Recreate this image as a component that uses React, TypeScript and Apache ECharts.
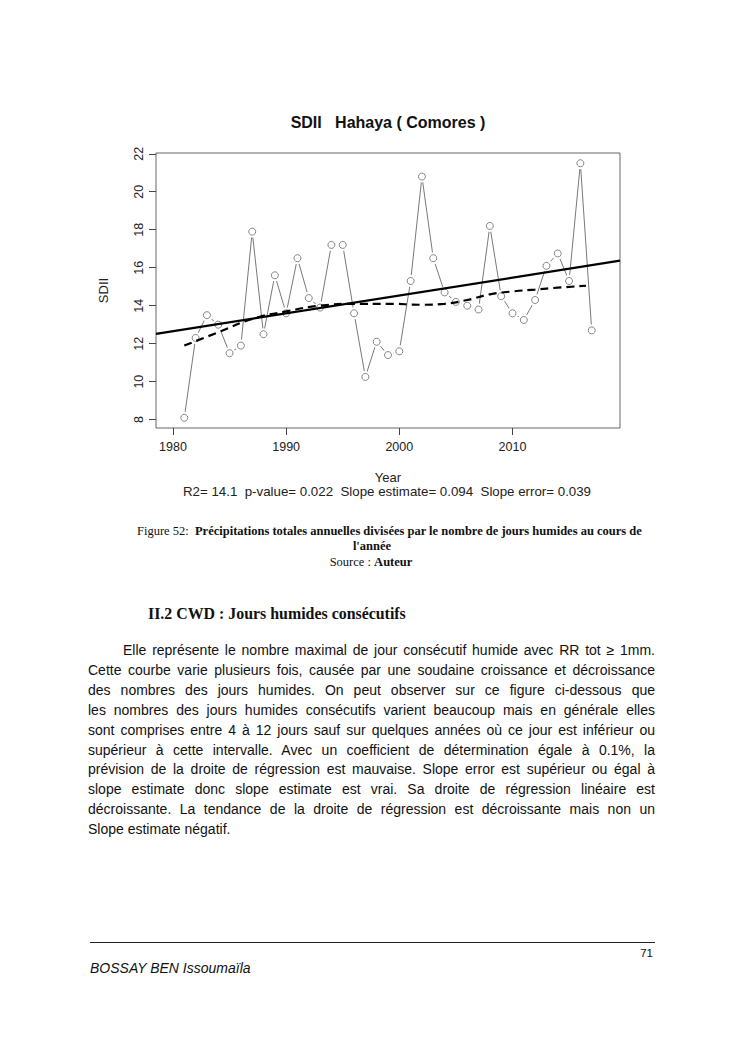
import React, { useEffect, useRef } from "react";
import * as echarts from "echarts";

const years = [1981, 1982, 1983, 1984, 1985, 1986, 1987, 1988, 1989, 1990, 1991, 1992, 1993, 1994, 1995, 1996, 1997, 1998, 1999, 2000, 2001, 2002, 2003, 2004, 2005, 2006, 2007, 2008, 2009, 2010, 2011, 2012, 2013, 2014, 2015, 2016, 2017];
const sdii = [8.1, 12.3, 13.5, 13.0, 11.5, 11.9, 17.9, 12.5, 15.6, 13.6, 16.5, 14.4, 13.9, 17.2, 17.2, 13.6, 10.25, 12.1, 11.4, 11.6, 15.3, 20.8, 16.5, 14.7, 14.2, 14.0, 13.8, 18.2, 14.5, 13.6, 13.25, 14.3, 16.1, 16.75, 15.3, 21.5, 12.7];

const trendYears = [1978.5, 2019.5];
const trendValues = [12.52, 16.37];

const smoothYears = [1981, 1984, 1987, 1990, 1993, 1996, 1999, 2002, 2004, 2006, 2008, 2010, 2012, 2014, 2016.5];
const smoothValues = [11.9, 12.6, 13.3, 13.7, 14.0, 14.1, 14.1, 14.05, 14.1, 14.3, 14.6, 14.75, 14.85, 14.95, 15.05];

const xTicks = [1980, 1990, 2000, 2010];
const yTicks = [8, 10, 12, 14, 16, 18, 20, 22];

const chartTitle = "SDII   Hahaya ( Comores )";
const xName = "Year";
const yName = "SDII";
const statsText = "R2= 14.1  p-value= 0.022  Slope estimate= 0.094  Slope error= 0.039";

const paragraphLines = [
  "Elle représente le nombre maximal de jour consécutif humide avec RR tot ≥ 1mm.",
  "Cette courbe varie plusieurs fois, causée par une soudaine croissance et décroissance",
  "des nombres des jours humides.  On  peut  observer  sur  ce  figure  ci-dessous  que",
  "les  nombres  des  jours  humides consécutifs varient beaucoup mais en générale elles",
  "sont comprises entre 4 à 12 jours sauf sur quelques années où ce jour est inférieur ou",
  "supérieur à cette intervalle. Avec un coefficient de détermination égale à 0.1%, la",
  "prévision de la droite de régression est mauvaise. Slope error est supérieur ou égal à",
  "slope estimate donc slope estimate est vrai. Sa droite de régression linéaire est",
  "décroissante. La  tendance de la droite de régression est décroissante mais non un",
  "Slope estimate négatif.",
];

const FONT = "'Liberation Sans', Arial, sans-serif";
const SERIF = "'Liberation Serif', 'Times New Roman', serif";

function Chart() {
  const ref = useRef<HTMLDivElement>(null);
  useEffect(() => {
    if (!ref.current) return;
    const chart = echarts.init(ref.current, null, { renderer: "svg" });
    const obs = years.map((y, i) => [y, sdii[i]]);
    chart.setOption({
      animation: false,
      backgroundColor: "#fff",
      grid: {
        left: 156,
        top: 153,
        width: 464,
        height: 275,
        show: true,
        borderColor: "#666",
        borderWidth: 1,
        backgroundColor: "transparent",
      },
      xAxis: {
        type: "value",
        min: 1978.5,
        max: 2019.5,
        splitLine: { show: false },
        axisLine: { show: false },
        axisTick: { show: true, customValues: xTicks, length: 7, lineStyle: { color: "#444", width: 1 } },
        axisLabel: {
          customValues: xTicks,
          formatter: (v: number) => String(v),
          fontFamily: FONT,
          fontSize: 12.5,
          color: "#222",
          margin: 12,
        },
      },
      yAxis: {
        type: "value",
        min: 7.56,
        max: 22.04,
        name: yName,
        nameLocation: "middle",
        nameGap: 46,
        nameRotate: 90,
        nameTextStyle: { fontFamily: FONT, fontSize: 13, color: "#222" },
        splitLine: { show: false },
        axisLine: { show: false },
        axisTick: { show: true, customValues: yTicks, length: 7, lineStyle: { color: "#444", width: 1 } },
        axisLabel: {
          customValues: yTicks,
          formatter: (v: number) => String(v),
          rotate: 90,
          fontFamily: FONT,
          fontSize: 12.5,
          color: "#222",
          margin: 11,
        },
      },
      graphic: [
        {
          type: "text",
          x: 388,
          y: 122,
          style: {
            text: chartTitle,
            fontFamily: FONT,
            fontSize: 16,
            fontWeight: "bold",
            fill: "#111",
            textAlign: "center",
            textVerticalAlign: "middle",
          },
        },
        {
          type: "text",
          x: 388,
          y: 477,
          style: {
            text: xName,
            fontFamily: FONT,
            fontSize: 13,
            fill: "#222",
            textAlign: "center",
            textVerticalAlign: "middle",
          },
        },
        {
          type: "text",
          x: 387,
          y: 491,
          style: {
            text: statsText,
            fontFamily: FONT,
            fontSize: 13.3,
            fill: "#222",
            textAlign: "center",
            textVerticalAlign: "middle",
          },
        },
      ],
      series: [
        {
          type: "line",
          data: obs,
          symbol: "circle",
          symbolSize: 12,
          itemStyle: { color: "#fff", borderWidth: 0 },
          lineStyle: { color: "#555", width: 0.8 },
          z: 2,
        },
        {
          type: "scatter",
          data: obs,
          symbol: "circle",
          symbolSize: 7,
          itemStyle: { color: "#fff", borderColor: "#444", borderWidth: 0.8 },
          z: 3,
        },
        {
          type: "line",
          data: trendYears.map((y, i) => [y, trendValues[i]]),
          showSymbol: false,
          symbol: "none",
          lineStyle: { color: "#000", width: 2.2 },
          z: 4,
        },
        {
          type: "line",
          data: smoothYears.map((y, i) => [y, smoothValues[i]]),
          showSymbol: false,
          symbol: "none",
          smooth: true,
          lineStyle: { color: "#000", width: 2.2, type: [8, 5] },
          z: 4,
        },
      ],
    });
    return () => chart.dispose();
  }, []);
  return <div ref={ref} style={{ position: "absolute", left: 0, top: 0, width: 745, height: 510 }} />;
}

export default function App() {
  const lineH = 19.9;
  const firstCenter = 650;
  return (
    <div style={{ position: "absolute", left: 0, top: 0, width: 745, height: 1053, background: "#fff", color: "#111" }}>
      <Chart />
      <div style={{ position: "absolute", left: 137, top: 523, whiteSpace: "nowrap", fontFamily: SERIF, fontSize: 12.5, lineHeight: "16px" }}>
        Figure 52:&nbsp; <b>Précipitations totales annuelles divisées par le nombre de jours humides au cours de</b>
      </div>
      <div style={{ position: "absolute", left: 0, width: 744, top: 538, textAlign: "center", whiteSpace: "nowrap", fontFamily: SERIF, fontSize: 12.5, lineHeight: "16px" }}>
        <b>l'année</b>
      </div>
      <div style={{ position: "absolute", left: 0, width: 742, top: 554, textAlign: "center", whiteSpace: "nowrap", fontFamily: SERIF, fontSize: 12.5, lineHeight: "16px" }}>
        Source : <b>Auteur</b>
      </div>
      <div style={{ position: "absolute", left: 148, top: 604, whiteSpace: "nowrap", fontFamily: SERIF, fontSize: 15.9, fontWeight: "bold", lineHeight: "20px" }}>
        II.2 CWD : Jours humides consécutifs
      </div>
      {paragraphLines.map((t, i) => {
        const last = i === paragraphLines.length - 1;
        return (
          <div
            key={i}
            style={{
              position: "absolute",
              left: i === 0 ? 123 : 88,
              width: i === 0 ? 532 : 567,
              top: firstCenter + i * lineH - 10,
              height: 20,
              lineHeight: "20px",
              fontFamily: FONT,
              fontSize: 14,
              whiteSpace: "nowrap",
              textAlign: last ? "left" : "justify",
              textAlignLast: last ? "left" : "justify",
            }}
          >
            {t}
          </div>
        );
      })}
      <div style={{ position: "absolute", left: 90, top: 942, width: 565, height: 1, background: "#222" }} />
      <div style={{ position: "absolute", left: 600, width: 53, top: 946, textAlign: "right", fontFamily: FONT, fontSize: 11.5, lineHeight: "14px" }}>71</div>
      <div style={{ position: "absolute", left: 90, top: 960, fontFamily: FONT, fontStyle: "italic", fontSize: 14, lineHeight: "16px", whiteSpace: "nowrap" }}>
        BOSSAY BEN Issoumaïla
      </div>
    </div>
  );
}
